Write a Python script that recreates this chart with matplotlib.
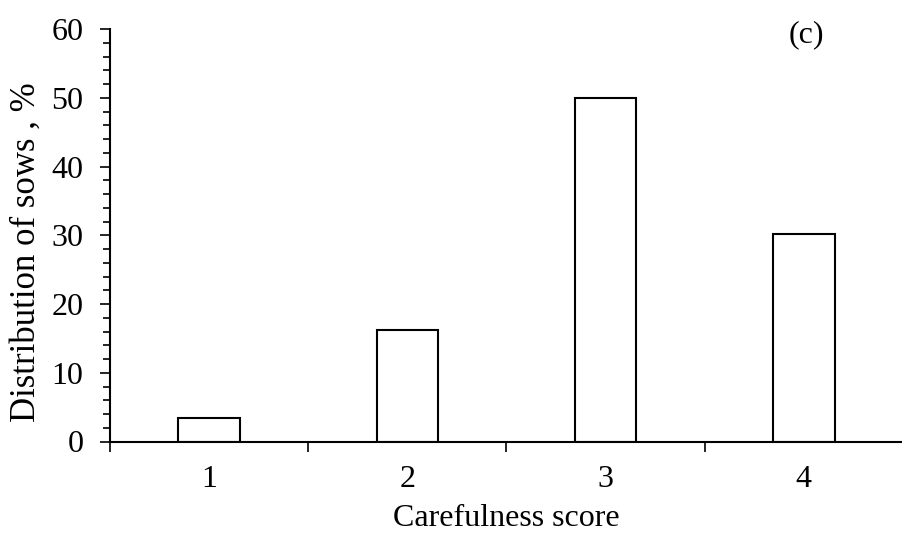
import numpy as np
import matplotlib.pyplot as plt
from matplotlib.ticker import MultipleLocator

# --- data ---
scores = ["1", "2", "3", "4"]
sows_pct = [3.35, 16.2, 50.0, 30.2]

plt.rcParams["font.family"] = ["Liberation Serif", "DejaVu Serif"]
FS = 23

fig = plt.figure(figsize=(9.02, 5.43), dpi=100)
ax = fig.add_axes([110 / 902, 1 - 441.5 / 543, 793 / 902, 412.5 / 543])

x = np.arange(len(scores))
ax.bar(x, sows_pct, width=0.31, color="white", edgecolor="black", linewidth=1.5)

ax.set_xlim(-0.5, len(scores) - 0.5)
ax.set_ylim(0, 60)

# x: ticks between categories, labels at centres
ax.set_xticks(np.arange(-0.5, len(scores), 1.0))
ax.set_xticklabels([])
ax.set_xticks(x, minor=True)
ax.set_xticklabels(scores, minor=True)
ax.tick_params(axis="x", which="major", direction="out", length=7.2, width=1.2)
ax.tick_params(axis="x", which="minor", length=0, pad=17, labelsize=FS)

# y: majors every 10, minors every 2
ax.yaxis.set_major_locator(MultipleLocator(10))
ax.yaxis.set_minor_locator(MultipleLocator(2))
ax.tick_params(axis="y", which="major", direction="out", length=7.2, width=1.2, labelsize=FS, pad=12)
ax.tick_params(axis="y", which="minor", direction="out", length=5, width=1.2)

for side in ["top", "right"]:
    ax.spines[side].set_visible(False)
for side in ["left", "bottom"]:
    ax.spines[side].set_linewidth(1.5)

ax.set_xlabel("Carefulness score", fontsize=FS, labelpad=7)
ax.set_ylabel("Distribution of sows , %", fontsize=25)
ax.yaxis.set_label_coords(-0.085, 0.46)

ax.text(0.878, 0.985, "(c)", transform=ax.transAxes, fontsize=FS, ha="center", va="center")

fig.savefig("out.png", dpi=100)
